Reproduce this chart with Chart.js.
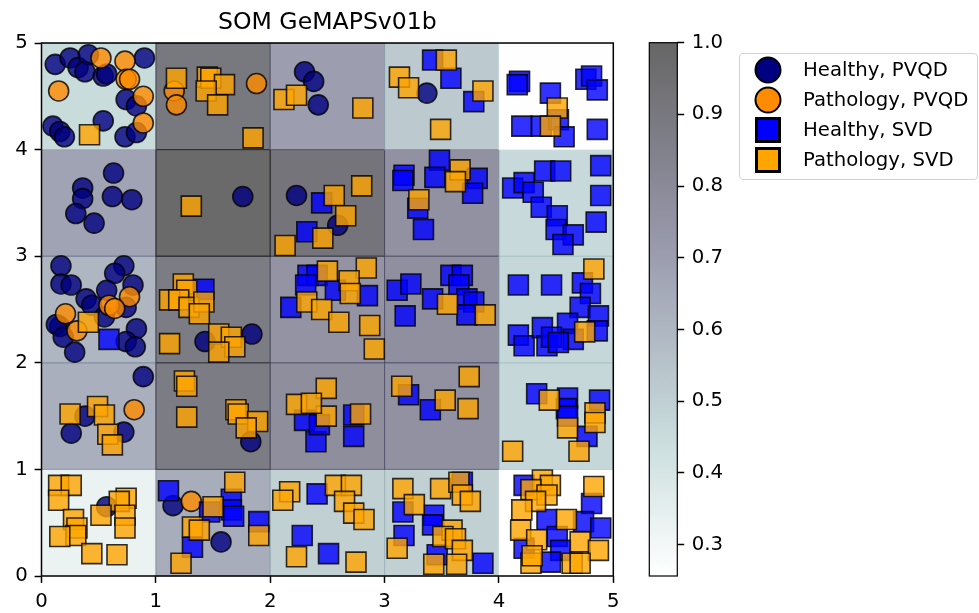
<!DOCTYPE html>
<html>
<head>
<meta charset="utf-8">
<title>SOM GeMAPSv01b</title>
<script src="https://cdn.jsdelivr.net/npm/chart.js@4.4.1/dist/chart.umd.min.js"></script>
<style>
  html, body { margin: 0; padding: 0; background: #fff; }
  #wrap { position: relative; width: 979px; height: 613px; overflow: hidden; font-family: "DejaVu Sans", sans-serif; }
  #main { position: absolute; left: 0; top: 0; }
  #cbar { position: absolute; left: 600px; top: 0; }
  #legend { position: absolute; left: 739px; top: 53px; width: 239px; height: 127px; box-sizing: border-box;
            border: 1px solid #d2d2d2; border-radius: 4px; background: rgba(255,255,255,0.8); }
  .item { position: absolute; left: 0; height: 30px; width: 100%; }
  .mk { position: absolute; top: 50%; transform: translate(-50%, -50%); box-sizing: border-box; }
  .txt { position: absolute; left: 63px; top: 50%; transform: translateY(-50%); font-size: 19.7px; color: #000; white-space: nowrap; line-height: 1; }
</style>
</head>
<body>
<div id="wrap">
  <canvas id="main" width="979" height="613"></canvas>
  <canvas id="cbar" width="140" height="613"></canvas>
  <div id="legend"></div>
</div>
<script>
// ---- SOM node values, one row per y band (row 0 = y 0..1), columns x 0..4
const somRow0 = [0.33, 0.64, 0.50, 0.50, 0.256];
const somRow1 = [0.63, 0.88, 0.78, 0.76, 0.47];
const somRow2 = [0.60, 0.88, 0.75, 0.77, 0.47];
const somRow3 = [0.68, 0.98, 0.92, 0.76, 0.46];
const somRow4 = [0.45, 0.90, 0.70, 0.52, 0.26];
const somRows = [somRow0, somRow1, somRow2, somRow3, somRow4];

const axisTicks = [0, 1, 2, 3, 4, 5];
const colorbarTicks = [0.3, 0.4, 0.5, 0.6, 0.7, 0.8, 0.9, 1.0];
const colorMin = 0.256;
const colorMax = 1.0;

const seriesLabels = ['Healthy, PVQD', 'Pathology, PVQD', 'Healthy, SVD', 'Pathology, SVD'];

// ---- samples projected on the map (x, y)
const healthyPvqd = [
  [0.12,4.80],[0.25,4.86],[0.32,4.77],[0.41,4.89],[0.38,4.73],[0.54,4.69],[0.57,4.71],[0.90,4.86],
  [0.74,4.47],[0.83,4.41],[0.10,4.22],[0.16,4.17],[0.20,4.12],[0.54,4.27],[0.73,4.12],[0.83,4.16],
  [2.30,4.73],[2.38,4.64],[2.42,4.42],[3.37,4.53],
  [0.63,3.78],[0.36,3.64],[0.36,3.54],[0.62,3.56],[0.79,3.53],[0.30,3.40],[0.46,3.31],
  [1.76,3.56],[2.23,3.57],[2.59,3.29],
  [0.17,2.91],[0.72,2.91],[0.64,2.84],[0.17,2.74],[0.26,2.73],[0.80,2.73],[0.57,2.68],[0.39,2.60],
  [0.44,2.54],[0.74,2.52],[0.55,2.43],[0.16,2.34],[0.13,2.36],[0.83,2.32],[0.74,2.20],[0.82,2.15],
  [0.19,2.24],[0.29,2.10],
  [1.84,2.27],[1.43,2.20],
  [0.89,1.87],[0.38,1.50],[0.26,1.34],[0.72,1.35],[1.83,1.26],
  [0.57,0.65],[1.15,0.66],[1.57,0.32]
];
const pathologyPvqd = [
  [0.52,4.86],[0.73,4.83],[0.74,4.66],[0.77,4.66],[0.15,4.55],[0.89,4.50],[0.89,4.25],
  [1.16,4.55],[1.18,4.42],[1.88,4.62],
  [0.77,2.62],[0.59,2.54],[0.64,2.51],[0.21,2.46],[0.31,2.30],
  [0.81,1.56],[1.31,0.70]
];
const healthySvd = [
  [3.42,4.84],[3.58,4.67],[3.78,4.45],
  [4.18,4.64],[4.16,4.61],[4.45,4.53],[4.76,4.66],[4.81,4.69],[4.86,4.56],[4.20,4.22],[4.37,4.22],
  [4.52,4.28],[4.57,4.12],[4.86,4.19],
  [2.45,3.50],[2.32,3.23],
  [3.48,3.90],[3.17,3.76],[3.16,3.71],[3.44,3.74],[3.81,3.73],[3.77,3.59],[3.29,3.45],[3.34,3.25],
  [4.12,3.64],[4.22,3.69],[4.40,3.80],[4.54,3.80],[4.30,3.60],[4.37,3.46],[4.51,3.38],[4.50,3.25],
  [4.65,3.20],[4.56,3.11],[4.89,3.85],[4.89,3.57],[4.85,3.32],
  [0.59,2.22],[1.42,2.69],
  [2.33,2.82],[2.41,2.82],[2.31,2.73],[2.18,2.52],[2.57,2.68],[2.85,2.63],
  [3.11,2.68],[3.23,2.74],[3.42,2.60],[3.18,2.44],[3.58,2.82],[3.68,2.82],[3.65,2.73],[3.72,2.60],
  [3.78,2.57],[3.72,2.45],
  [4.17,2.73],[4.46,2.73],[4.73,2.75],[4.80,2.65],[4.71,2.52],[4.87,2.44],[4.60,2.37],[4.86,2.30],
  [4.17,2.26],[4.22,2.16],[4.38,2.33],[4.42,2.16],[4.46,2.24],[4.65,2.22],[4.52,2.19],
  [2.30,1.46],[2.40,1.26],[2.43,1.42],[2.73,1.51],[2.73,1.31],
  [3.21,1.70],[3.40,1.56],
  [4.33,1.71],[4.60,1.67],[4.59,1.57],[4.88,1.65],[4.77,1.31],[4.60,1.50],
  [1.11,0.80],[1.66,0.72],[1.47,0.60],[1.66,0.62],[1.68,0.56],[1.32,0.27],[1.90,0.51],
  [2.41,0.77],[2.28,0.38],[2.51,0.21],
  [3.68,0.88],[3.16,0.60],[3.43,0.57],[3.42,0.48],[3.17,0.38],[3.46,0.20],[3.86,0.12],
  [4.22,0.85],[4.81,0.68],[4.42,0.53],[4.74,0.51],[4.89,0.45],[4.51,0.37],[4.54,0.24],[4.22,0.26],[4.45,0.13]
];
const pathologySvd = [
  [0.42,4.14],
  [1.18,4.67],[1.45,4.68],[1.48,4.67],[1.60,4.61],[1.44,4.55],[1.54,4.42],[1.85,4.11],
  [2.12,4.47],[2.23,4.51],[2.81,4.39],
  [3.54,4.84],[3.13,4.68],[3.21,4.58],[3.86,4.55],[3.49,4.19],
  [4.51,4.39],[4.45,4.22],
  [1.31,3.47],
  [2.56,3.57],[2.13,3.10],[2.46,3.17],[2.80,3.66],[2.66,3.38],
  [3.66,3.81],[3.62,3.70],[3.30,3.53],
  [0.41,2.38],
  [1.24,2.74],[1.27,2.68],[1.12,2.59],[1.20,2.59],[1.29,2.52],[1.42,2.57],[1.38,2.46],[1.55,2.27],
  [1.66,2.24],[1.69,2.15],[1.55,2.10],[1.12,2.18],
  [2.50,2.86],[2.32,2.57],[2.45,2.50],[2.84,2.89],[2.69,2.77],[2.70,2.65],[2.60,2.38],[2.87,2.35],[2.91,2.13],
  [3.55,2.55],[3.88,2.45],
  [4.83,2.88],[4.75,2.29],
  [0.25,1.52],[0.49,1.59],[0.55,1.51],[0.58,1.33],[0.62,1.23],
  [1.25,1.83],[1.27,1.78],[1.27,1.49],[1.70,1.56],[1.72,1.52],[1.89,1.45],[1.79,1.39],
  [2.23,1.61],[2.49,1.76],[2.49,1.50],[2.36,1.62],[2.79,1.52],
  [3.15,1.78],[3.53,1.65],[3.74,1.87],[3.73,1.57],
  [4.44,1.65],[4.84,1.53],[4.84,1.44],[4.60,1.39],[4.12,1.17],[4.70,1.17],
  [0.15,0.85],[0.26,0.85],[0.15,0.71],[0.74,0.73],[0.68,0.70],[0.52,0.57],[0.73,0.57],[0.73,0.45],
  [0.28,0.53],[0.31,0.45],[0.30,0.38],[0.16,0.37],[0.44,0.21],[0.66,0.20],
  [1.69,0.88],[1.50,0.65],[1.32,0.46],[1.38,0.43],[1.22,0.12],[1.90,0.38],
  [2.17,0.79],[2.11,0.71],[2.23,0.18],[2.57,0.85],[2.71,0.85],[2.65,0.70],[2.73,0.59],[2.82,0.53],[2.75,0.13],
  [3.16,0.82],[3.49,0.82],[3.65,0.88],[3.68,0.76],[3.75,0.70],[3.26,0.67],[3.59,0.43],[3.51,0.37],
  [3.62,0.35],[3.68,0.24],[3.11,0.26],[3.43,0.11],[3.63,0.11],
  [4.38,0.90],[4.45,0.85],[4.28,0.81],[4.42,0.76],[4.32,0.70],[4.83,0.84],[4.20,0.62],[4.59,0.53],
  [4.19,0.43],[4.33,0.34],[4.71,0.32],[4.87,0.24],[4.28,0.12],[4.64,0.12],[4.71,0.12],[4.29,0.19]
];

// ---- styling
const FONT = '"DejaVu Sans", sans-serif';
const seriesColors = ['#000080', '#ff8c00', '#0000ff', '#ffa500'];
const markerAlpha = 0.8;
const heatAlpha = 0.6;

function rgba(hex, a) {
  const n = parseInt(hex.slice(1), 16);
  return `rgba(${(n >> 16) & 255},${(n >> 8) & 255},${n & 255},${a})`;
}

// reversed "bone" colour map, blended with transparency
const boneR = [[0, 0], [0.746032, 0.652778], [1, 1]];
const boneG = [[0, 0], [0.365079, 0.319444], [0.746032, 0.777778], [1, 1]];
const boneB = [[0, 0], [0.365079, 0.444444], [1, 1]];
function seg(pts, s) {
  for (let i = 1; i < pts.length; i++) {
    if (s <= pts[i][0]) {
      const [x0, y0] = pts[i - 1], [x1, y1] = pts[i];
      return y0 + (y1 - y0) * (s - x0) / (x1 - x0);
    }
  }
  return pts[pts.length - 1][1];
}
function somColor(v, a) {
  let t = (v - colorMin) / (colorMax - colorMin);
  t = Math.min(1, Math.max(0, t));
  const s = 1 - t;
  const r = Math.round(seg(boneR, s) * 255), g = Math.round(seg(boneG, s) * 255), b = Math.round(seg(boneB, s) * 255);
  return `rgba(${r},${g},${b},${a === undefined ? heatAlpha : a})`;
}

const toPoints = arr => arr.map(([x, y]) => ({ x, y }));

// heat map of the SOM nodes, drawn under the samples
const somGridPlugin = {
  id: 'somGrid',
  beforeDatasetsDraw(chart) {
    const { ctx, scales: { x, y } } = chart;
    ctx.save();
    ctx.lineWidth = 1;
    somRows.forEach((row, j) => {
      row.forEach((v, i) => {
        const x0 = x.getPixelForValue(i), x1 = x.getPixelForValue(i + 1);
        const y0 = y.getPixelForValue(j + 1), y1 = y.getPixelForValue(j);
        ctx.fillStyle = somColor(v);
        ctx.fillRect(x0, y0, x1 - x0, y1 - y0);
        ctx.strokeStyle = somColor(v);
        ctx.strokeRect(x0, y0, x1 - x0, y1 - y0);
      });
    });
    ctx.restore();
  }
};

// axes frame on all four sides
const framePlugin = {
  id: 'frame',
  afterDatasetsDraw(chart) {
    const { ctx, chartArea: a } = chart;
    ctx.save();
    ctx.strokeStyle = '#000';
    ctx.lineWidth = 1.5;
    ctx.strokeRect(a.left, a.top, a.right - a.left, a.bottom - a.top);
    ctx.restore();
  }
};

const tickFont = { family: FONT, size: 19.7 };
function axisOptions(fixSize) {
  return {
    type: 'linear', min: 0, max: 5,
    afterBuildTicks: s => { s.ticks = axisTicks.map(v => ({ value: v })); },
    afterFit: fixSize,
    grid: { drawOnChartArea: false, drawTicks: true, tickLength: 6.9, tickWidth: 1.5, tickColor: '#000' },
    border: { display: false },
    ticks: { padding: 6.9, font: tickFont, color: '#000', maxRotation: 0, callback: v => String(v) }
  };
}

function scatterSet(idx, pts, style, radius, order) {
  return {
    label: seriesLabels[idx],
    data: toPoints(pts),
    pointStyle: style,
    pointRadius: radius,
    pointHoverRadius: radius,
    pointBackgroundColor: rgba(seriesColors[idx], markerAlpha),
    pointBorderColor: 'rgba(0,0,0,0.8)',
    pointBorderWidth: 1.6,
    backgroundColor: rgba(seriesColors[idx], markerAlpha),
    borderColor: 'rgba(0,0,0,0.8)',
    showLine: false,
    order: order,
    clip: false
  };
}

const mainChart = new Chart(document.getElementById('main'), {
  type: 'scatter',
  data: {
    datasets: [
      scatterSet(0, healthyPvqd, 'circle', 10, 3),
      scatterSet(1, pathologyPvqd, 'circle', 10, 2),
      scatterSet(2, healthySvd, 'rect', 14.14, 1),
      scatterSet(3, pathologySvd, 'rect', 14.14, 0)
    ]
  },
  options: {
    responsive: false,
    animation: false,
    events: [],
    layout: { padding: { left: 0, top: 0, right: 979 - 613.3, bottom: 0 } },
    plugins: {
      legend: { display: false },
      tooltip: { enabled: false },
      title: {
        display: true,
        text: 'SOM GeMAPSv01b',
        fullSize: false,
        color: '#000',
        font: { family: FONT, size: 23.6, weight: 'normal', lineHeight: 1.2 },
        padding: { top: 9, bottom: 5.7 }
      }
    },
    scales: {
      x: axisOptions(s => { s.height = 37; }),
      y: axisOptions(s => { s.width = 41.5; })
    }
  },
  plugins: [somGridPlugin, framePlugin]
});

// colour bar
const gradientPlugin = {
  id: 'cbarGradient',
  beforeDatasetsDraw(chart) {
    const { ctx, chartArea: a, scales: { y } } = chart;
    const yb = y.getPixelForValue(colorMin), yt = y.getPixelForValue(colorMax);
    const g = ctx.createLinearGradient(0, yb, 0, yt);
    const steps = 60;
    for (let k = 0; k <= steps; k++) {
      const v = colorMin + (colorMax - colorMin) * k / steps;
      g.addColorStop(k / steps, somColor(v));
    }
    ctx.save();
    ctx.fillStyle = g;
    ctx.fillRect(a.left, yt, a.right - a.left, yb - yt);
    ctx.strokeStyle = '#000';
    ctx.lineWidth = 1.2;
    ctx.strokeRect(a.left, yt, a.right - a.left, yb - yt);
    ctx.restore();
  }
};

new Chart(document.getElementById('cbar'), {
  type: 'scatter',
  data: { datasets: [] },
  options: {
    responsive: false,
    animation: false,
    events: [],
    layout: { padding: { left: 49.3, right: 0, top: 42.7, bottom: 37 } },
    plugins: { legend: { display: false }, tooltip: { enabled: false } },
    scales: {
      x: { display: false, min: 0, max: 1 },
      y: {
        position: 'right', min: colorMin, max: colorMax,
        afterBuildTicks: s => { s.ticks = colorbarTicks.map(v => ({ value: v })); },
        afterFit: s => { s.width = 62.7; },
        grid: { drawOnChartArea: false, drawTicks: true, tickLength: 6.9, tickWidth: 1.5, tickColor: '#000' },
        border: { display: false },
        ticks: { padding: 7.5, font: tickFont, color: '#000', callback: v => Number(v).toFixed(1) }
      }
    }
  },
  plugins: [gradientPlugin]
});

// legend built from the scatter datasets
(function buildLegend() {
  const box = document.getElementById('legend');
  mainChart.data.datasets.forEach((ds, i) => {
    const item = document.createElement('div');
    item.className = 'item';
    item.style.top = (1.3 + 30 * i) + 'px';
    const mk = document.createElement('span');
    mk.className = 'mk';
    mk.style.left = '27.7px';
    mk.style.background = seriesColors[i];
    if (ds.pointStyle === 'circle') {
      mk.style.width = '27px'; mk.style.height = '27px';
      mk.style.border = '2.5px solid #000'; mk.style.borderRadius = '50%';
    } else {
      mk.style.width = '26px'; mk.style.height = '26px';
      mk.style.border = '3px solid #000';
    }
    const tx = document.createElement('span');
    tx.className = 'txt';
    tx.textContent = ds.label;
    item.appendChild(mk);
    item.appendChild(tx);
    box.appendChild(item);
  });
})();
</script>
</body>
</html>
